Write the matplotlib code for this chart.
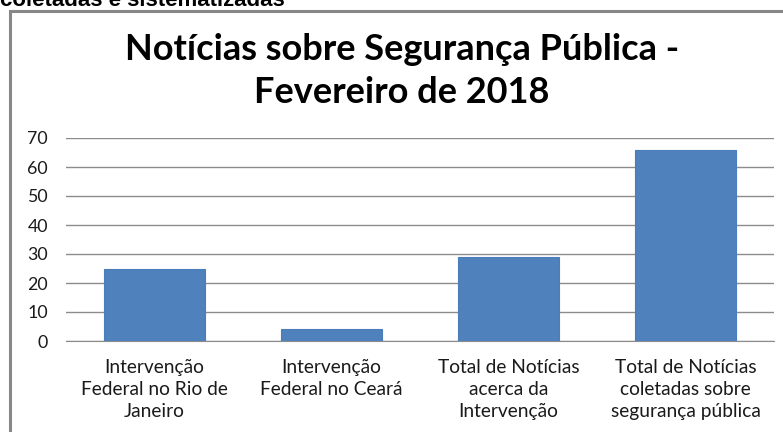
import matplotlib
matplotlib.use('Agg')
import matplotlib.pyplot as plt
from matplotlib.patches import Rectangle

# Data
categories = ['Intervenção\nFederal no Rio de\nJaneiro',
              'Intervenção\nFederal no Ceará',
              'Total de Notícias\nacerca da\nIntervenção',
              'Total de Notícias\ncoletadas sobre\nsegurança pública']
values = [25, 4, 29, 66]
yticks = [0, 10, 20, 30, 40, 50, 60, 70]

W, H = 783, 432
fig = plt.figure(figsize=(W / 100, H / 100), dpi=100)
fig.patch.set_facecolor('white')

# clipped caption from the page above the chart
fig.text(0.0, 1 - 6 / H, 'coletadas e sistematizadas', fontsize=16,
         fontweight='bold', family='Liberation Sans', ha='left', va='baseline')

# chart border
fig.patches.append(Rectangle((10 / W, -0.1), 1.2, (H - 11) / H + 0.1,
                             transform=fig.transFigure, fill=False,
                             edgecolor='#878787', linewidth=2.2))

ax = fig.add_axes([66 / W, (H - 341) / H, 708 / W, (341 - 138) / H])
x = range(len(values))
ax.bar(x, values, width=0.565, color='#4F81BD', edgecolor='#4A7EBB',
       linewidth=0.8, zorder=3)
ax.set_xlim(-0.5, len(values) - 0.5)
ax.set_ylim(0, 70)
ax.set_yticks(yticks)
ax.set_xticks(list(x))
ax.set_xticklabels(categories, family='Lato', fontsize=13.8, color='#1a1a1a',
                   linespacing=1.36)
ax.tick_params(axis='x', length=0, pad=13)
ax.tick_params(axis='y', length=0, pad=13, labelsize=12.8, labelcolor='#1a1a1a')
for lbl in ax.get_yticklabels():
    lbl.set_family('Lato')
ax.grid(axis='y', color='#8c8c8c', linewidth=1.0, zorder=0)
for s in ['top', 'right', 'left']:
    ax.spines[s].set_visible(False)
ax.spines['bottom'].set_color('#8c8c8c')
ax.set_facecolor('white')

fig.text(402 / W, 1 - 60 / H, 'Notícias sobre Segurança Pública -',
         fontsize=26, fontweight='bold', family='Lato', ha='center', va='baseline')
fig.text(402 / W, 1 - 103 / H, 'Fevereiro de 2018',
         fontsize=26, fontweight='bold', family='Lato', ha='center', va='baseline')

fig.savefig('out.png', dpi=100)
